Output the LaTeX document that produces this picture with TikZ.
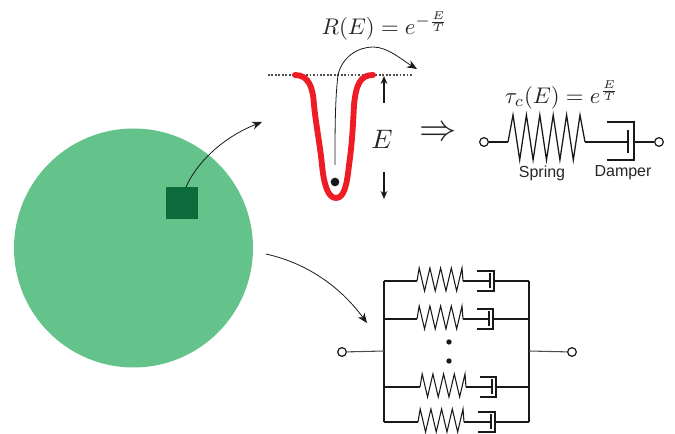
\documentclass[tikz,border=0pt]{standalone}
\usepackage{fontspec}
\setsansfont{Liberation Sans}
\usetikzlibrary{arrows.meta}
\definecolor{grain}{HTML}{64C28B}
\definecolor{patch}{HTML}{0C6B3A}
\definecolor{well}{HTML}{EE1C25}
\newcommand{\row}[5]{% y, spring start, cup open x, cup closed x, label
  \coordinate (#5L) at (384,#1);
  \coordinate (#5R) at (529,#1);
  \coordinate (#5S) at (#2,#1);
  \coordinate (#5T) at (#2+46,#1);
  \coordinate (#5B) at (#4-4,#1);
  \coordinate (#5C) at (#4,#1);
  \draw[mech] (#5L) -- (#5S);
  \draw[thin mech] (#5S) -- ++(2.2,-13)
    -- ++(5.35,23) -- ++(5.35,-23) -- ++(5.35,23) -- ++(5.35,-23) -- ++(5.35,23)
    -- ++(5.35,-23) -- ++(5.35,23) -- ++(5.35,-23) -- (#5T);
  \draw[mech] (#5T) -- (#5B);
  \draw[mech] (#4-4,#1-7.5) -- (#4-4,#1+7.5);
  \draw[mech] (#3,#1-10) -- (#4,#1-10) -- (#4,#1+10) -- (#3,#1+10);
  \draw[mech] (#5C) -- (#5R);}
\begin{document}
\begin{tikzpicture}[x=0.75pt,y=-0.75pt,
  mech/.style={line width=0.95pt,black!90,line join=miter},
  thin mech/.style={line width=0.8pt,black!90,line join=miter},
  arr/.style={line width=0.6pt,black!90,-{Stealth[length=7.5pt,width=6pt]}},
  earr/.style={line width=1pt,black!90,-{Stealth[length=6pt,width=5pt]}},
  term/.style={circle,draw=black!90,fill=white,line width=0.9pt,minimum size=6.5pt,inner sep=0pt},
  lab/.style={inner sep=0pt,font=\sffamily\fontsize{12}{14}\selectfont,text=black!85},
  eq/.style={inner sep=0pt,scale=1.7,text=black!85}]
\useasboundingbox (0,0) rectangle (675,434);
% grain
\node[circle,fill=grain,minimum size=179.25pt,inner sep=0pt] (disc) at (133.5,248) {};
\node[fill=patch,minimum size=24pt,inner sep=0pt] (sq) at (182,203) {};
\coordinate (a1s) at (186,187); \coordinate (a1e) at (262,122);
\draw[arr] (a1s) .. controls (198,160) and (226,136) .. (a1e);
\coordinate (a2s) at (266,254); \coordinate (a2e) at (367,323);
\draw[arr] (a2s) .. controls (310,264) and (342,289) .. (a2e);
% well
\coordinate (dl) at (268,75); \coordinate (dr) at (412,75);
\draw[dash pattern=on 1.3pt off 1.3pt,line width=0.9pt,black!70] (dl) -- (dr);
\draw[well,line width=4.4pt,line cap=round] (295,75) .. controls (309,75) and (313,88) .. (314,105)
  .. controls (316,125) and (320,145) .. (322,165)
  .. controls (324,185) and (328,198) .. (336,198)
  .. controls (344,198) and (347,185) .. (349,165)
  .. controls (352,145) and (353,125) .. (354,105)
  .. controls (356,85) and (360,75) .. (373,75);
\node[circle,fill=black!90,minimum size=6.5pt,inner sep=0pt] (ball) at (335,182) {};
\coordinate (j1) at (335,165); \coordinate (j2) at (417,69);
\draw[arr] (j1) .. controls (335,130) and (335,100) .. (338,75) .. controls (342,57) and (358,47) .. (373,47) .. controls (388,47) and (402,60) .. (j2);
\coordinate (u1) at (384,103); \coordinate (u2) at (384,76);
\coordinate (d1) at (384,172); \coordinate (d2) at (384,199);
\draw[earr] (u1) -- (u2);
\draw[earr] (d1) -- (d2);
\node[eq,scale=1.18] (E) at (382,139) {$E$};
\node[eq,scale=1.64] (imp) at (438,134) {$\Rightarrow$};
\node[eq] (R) at (385,26) {$R(E)=e^{-\frac{E}{T}}$};
\node[eq] (tau) at (562,95) {$\tau_c(E)=e^{\frac{E}{T}}$};
% single element
\node[term] (tl) at (484,142) {};
\node[term] (tr) at (659,142) {};
\coordinate (s1) at (508,142); \coordinate (s2) at (585,142); \coordinate (bar) at (628,142); \coordinate (cup) at (634,142);
\draw[mech] (tl) -- (s1);
\draw[mech] (s1) -- ++(5,-27)
  -- ++(6.7,45) -- ++(6.7,-45) -- ++(6.7,45) -- ++(6.7,-45) -- ++(6.7,45)
  -- ++(6.7,-45) -- ++(6.7,45) -- ++(6.7,-45) -- ++(6.7,45) -- ++(6.7,-45) -- (s2);
\draw[mech] (s2) -- (bar);
\draw[mech] (628,130) -- (628,153);
\draw[mech] (607,122) -- (634,122) -- (634,160) -- (607,160);
\draw[mech] (cup) -- (tr);
\node[lab] (sp) at (542,173) {Spring};
\node[lab] (dm) at (623,173) {Damper};
% parallel
\row{281}{417}{477}{494}{ra}
\row{319}{417}{477}{493}{rb}
\row{387}{420}{480}{496}{rc}
\row{422}{418}{478}{495}{rd}
\draw[mech] (raL) -- (rdL);
\draw[mech] (raR) -- (rdR);
\node[term] (pl) at (342,352) {};
\node[term] (pr) at (572,352) {};
\coordinate (jl) at (384,351); \coordinate (jr) at (529,351);
\draw[line width=0.8pt,black!70] (pl) -- (jl);
\draw[line width=0.8pt,black!70] (jr) -- (pr);
\node[circle,fill=black!90,minimum size=4pt,inner sep=0pt] (v1) at (449,342) {};
\node[circle,fill=black!90,minimum size=4pt,inner sep=0pt] (v2) at (449,361) {};
\end{tikzpicture}
\end{document}
